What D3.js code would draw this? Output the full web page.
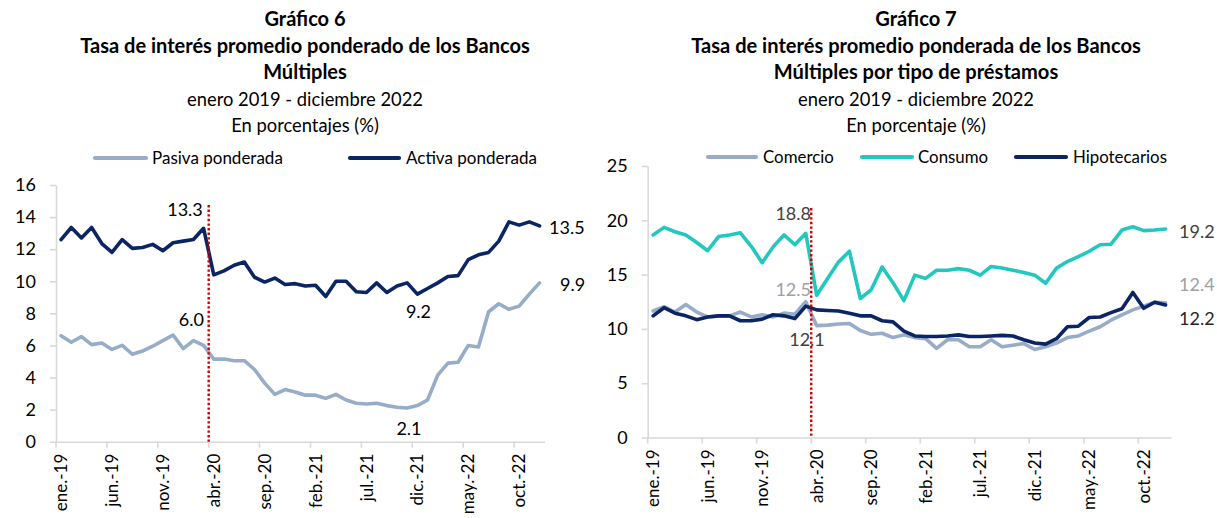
<!DOCTYPE html>
<html><head><meta charset="utf-8">
<script src="https://cdn.jsdelivr.net/npm/d3@7/dist/d3.min.js"></script>
<style>
body{margin:0;background:#fff}
svg{display:block}
text{font-family:Lato,'Open Sans',sans-serif}
</style>
</head><body>
<svg id="c" width="1217" height="518"></svg>
<script>
// ---------- DATA ----------
const months = [
 "ene.-19","feb.-19","mar.-19","abr.-19","may.-19","jun.-19","jul.-19","ago.-19","sep.-19","oct.-19","nov.-19","dic.-19",
 "ene.-20","feb.-20","mar.-20","abr.-20","may.-20","jun.-20","jul.-20","ago.-20","sep.-20","oct.-20","nov.-20","dic.-20",
 "ene.-21","feb.-21","mar.-21","abr.-21","may.-21","jun.-21","jul.-21","ago.-21","sep.-21","oct.-21","nov.-21","dic.-21",
 "ene.-22","feb.-22","mar.-22","abr.-22","may.-22","jun.-22","jul.-22","ago.-22","sep.-22","oct.-22","nov.-22","dic.-22"];
const tickLabels = ["ene.-19","jun.-19","nov.-19","abr.-20","sep.-20","feb.-21","jul.-21","dic.-21","may.-22","oct.-22"];

// Gráfico 6
const pasiva = [6.6,6.2,6.55,6.05,6.15,5.75,6.0,5.45,5.65,5.95,6.3,6.65,5.8,6.3,6.0,5.15,5.15,5.05,5.05,4.5,3.65,2.95,3.25,3.1,2.9,2.9,2.7,2.95,2.6,2.4,2.35,2.4,2.25,2.15,2.1,2.25,2.6,4.15,4.9,4.95,6.0,5.9,8.1,8.6,8.25,8.45,9.2,9.9];
const activa = [12.6,13.35,12.7,13.35,12.35,11.8,12.6,12.05,12.1,12.3,11.9,12.4,12.5,12.6,13.3,10.4,10.65,11.0,11.2,10.25,9.95,10.2,9.8,9.85,9.7,9.75,9.05,10.0,10.0,9.35,9.3,9.9,9.3,9.7,9.9,9.2,9.55,9.9,10.3,10.35,11.35,11.65,11.8,12.5,13.7,13.5,13.7,13.45];
const yTicks6 = [0,2,4,6,8,10,12,14,16];

// Gráfico 7
const comercio = [11.65,12.05,11.55,12.25,11.55,11.1,11.2,11.2,11.55,11.1,11.3,11.1,11.45,11.35,12.5,10.3,10.35,10.45,10.5,9.85,9.5,9.6,9.2,9.45,9.2,9.1,8.2,9.0,9.0,8.35,8.35,9.0,8.35,8.5,8.65,8.1,8.35,8.7,9.2,9.35,9.8,10.2,10.8,11.3,11.75,12.1,12.45,12.4];
const consumo = [18.65,19.35,18.95,18.65,17.95,17.2,18.5,18.65,18.85,17.6,16.1,17.55,18.65,17.75,18.8,13.1,14.65,16.15,17.15,12.8,13.6,15.7,14.25,12.6,14.95,14.65,15.4,15.4,15.55,15.4,14.95,15.75,15.6,15.4,15.2,14.95,14.2,15.6,16.2,16.65,17.15,17.75,17.8,19.1,19.4,19.05,19.1,19.2];
const hipotecarios = [11.2,11.95,11.45,11.2,10.85,11.1,11.2,11.2,10.75,10.75,10.9,11.3,11.2,10.95,12.1,11.75,11.7,11.65,11.45,11.2,11.2,10.75,10.65,9.8,9.35,9.3,9.3,9.35,9.45,9.3,9.3,9.35,9.4,9.35,9.0,8.7,8.6,9.1,10.2,10.25,11.05,11.1,11.5,11.85,13.35,11.9,12.45,12.2];
const yTicks7 = [0,5,10,15,20,25];

const markerMonth = "abr.-20";

// ---------- STYLE ----------
const C_LIGHT = "#97acc6", C_DARK = "#0b2463", C_TEAL = "#22c8bf", C_RED = "#d00000", C_AXIS = "#d9d9d9";
const svg = d3.select("#c");

function fitSize(sel, target){
  const n = sel.node(); const fs = parseFloat(sel.attr("font-size"));
  const w = n.getComputedTextLength();
  return fs * target / w;
}

function titleBlock(cx, lines){
  const ys = [26, 53, 79, 106, 132];
  const ts = lines.map((l,i)=> svg.append("text").attr("x",cx).attr("y",ys[i])
     .attr("text-anchor","middle").attr("font-size",16).attr("font-weight", l.b?700:400)
     .attr("fill","#000").text(l.t));
  const sb = fitSize(ts[1], 450);
  const sr = fitSize(ts[3], 236);
  ts.forEach((t,i)=> t.attr("font-size", lines[i].b ? sb : sr));
}

function panel(cfg){
  const g = svg.append("g");
  const x = d3.scaleBand().domain(months).range(cfg.xr);
  const bw = x.bandwidth();
  const cx = d => x(d) + bw/2;
  const y = d3.scaleLinear().domain(cfg.yd).range(cfg.yr);

  const ya = g.append("g").attr("transform",`translate(${cfg.xr[0]},0)`)
    .call(d3.axisLeft(y).tickValues(cfg.yticks).tickSize(6).tickSizeOuter(0).tickPadding(14));
  ya.select(".domain").attr("stroke",C_AXIS).attr("stroke-width",1.6);
  ya.selectAll(".tick line").attr("stroke",C_AXIS).attr("stroke-width",1.6);
  ya.selectAll(".tick text").attr("font-size",18).attr("fill","#000").attr("font-family","Lato");

  const xa = g.append("g").attr("transform",`translate(0,${cfg.yr[0]})`)
    .call(d3.axisBottom(x).tickValues(tickLabels).tickSize(6).tickSizeOuter(0));
  xa.select(".domain").attr("stroke",C_AXIS).attr("stroke-width",1.6);
  xa.selectAll(".tick line").attr("stroke",C_AXIS).attr("stroke-width",1.6).attr("x1",-bw/2).attr("x2",-bw/2);
  xa.selectAll(".tick text").attr("transform","rotate(-90)").attr("text-anchor","end")
    .attr("x",-12).attr("y",0).attr("dy","0.36em").attr("font-size",17).attr("fill","#000").attr("font-family","Lato");

  const line = d3.line().x((d,i)=>cx(months[i])).y(d=>y(d)).curve(d3.curveLinear);
  cfg.series.forEach(s=>{
    g.append("path").datum(s.data).attr("d",line).attr("fill","none")
      .attr("stroke",s.color).attr("stroke-width",3.6).attr("stroke-linejoin","round").attr("stroke-linecap","round");
  });

  cfg.labels.forEach(l=>{
    g.append("text").attr("x",l.x).attr("y",l.y).attr("text-anchor",l.a||"start")
      .attr("font-size",18).attr("fill",l.c||"#000").text(l.t);
  });

  const xm = x(markerMonth);
  g.append("line").attr("x1",xm).attr("x2",xm).attr("y1",cfg.markTop).attr("y2",cfg.yr[0])
    .attr("stroke",C_RED).attr("stroke-width",2.4).attr("stroke-dasharray","2.4,2.2");

  // legend
  let fs = null; const lt = [];
  cfg.legend.forEach((l,i)=>{
    g.append("line").attr("x1",l.x1).attr("x2",l.x2).attr("y1",cfg.legY).attr("y2",cfg.legY)
      .attr("stroke",l.color).attr("stroke-width",4.2).attr("stroke-linecap","round");
    const t = g.append("text").attr("x",l.tx).attr("y",cfg.legY+5.5).attr("font-size",15).attr("fill","#000").text(l.t);
    lt.push(t);
    if(i===cfg.fitIdx) fs = fitSize(t, cfg.fitW);
  });
  lt.forEach(t=>t.attr("font-size",fs));
}

titleBlock(305, [
  {t:"Gráfico 6", b:true},
  {t:"Tasa de interés promedio ponderado de los Bancos", b:true},
  {t:"Múltiples", b:true},
  {t:"enero 2019 - diciembre 2022", b:false},
  {t:"En porcentajes (%)", b:false}]);
titleBlock(916, [
  {t:"Gráfico 7", b:true},
  {t:"Tasa de interés promedio ponderada de los Bancos", b:true},
  {t:"Múltiples por tipo de préstamos", b:true},
  {t:"enero 2019 - diciembre 2022", b:false},
  {t:"En porcentaje (%)", b:false}]);

panel({
  xr:[56,544.6], yd:[0,16], yr:[441.7,185], yticks:yTicks6, markTop:205,
  series:[{data:pasiva,color:C_LIGHT},{data:activa,color:C_DARK}],
  labels:[
    {t:"13.3",x:185,y:215.5,a:"middle"},
    {t:"6.0",x:204,y:325.5,a:"end"},
    {t:"9.2",x:418.5,y:318,a:"middle"},
    {t:"13.5",x:549,y:233.5},
    {t:"9.9",x:560,y:290.5},
    {t:"2.1",x:409,y:434.5,a:"middle"}],
  legY:158, fitIdx:0, fitW:131,
  legend:[
    {t:"Pasiva ponderada",x1:95,x2:146,tx:152,color:C_LIGHT},
    {t:"Activa ponderada",x1:350,x2:399,tx:406,color:C_DARK}]
});

panel({
  xr:[647.7,1171], yd:[0,25], yr:[437.5,166], yticks:yTicks7, markTop:208,
  series:[{data:comercio,color:C_LIGHT},{data:consumo,color:C_TEAL},{data:hipotecarios,color:C_DARK}],
  labels:[
    {t:"18.8",x:811,y:219.5,a:"end",c:"#404040"},
    {t:"12.5",x:811,y:295.5,a:"end",c:"#a0a0a0"},
    {t:"12.1",x:807,y:345.8,a:"middle",c:"#404040"},
    {t:"19.2",x:1179,y:237.5,c:"#404040"},
    {t:"12.4",x:1179,y:290.5,c:"#a0a0a0"},
    {t:"12.2",x:1179,y:324.5,c:"#262626"}],
  legY:157, fitIdx:2, fitW:94,
  legend:[
    {t:"Comercio",x1:708,x2:756,tx:763,color:C_LIGHT},
    {t:"Consumo",x1:862,x2:912,tx:918,color:C_TEAL},
    {t:"Hipotecarios",x1:1016,x2:1066,tx:1073,color:C_DARK}]
});
</script>
</body></html>
